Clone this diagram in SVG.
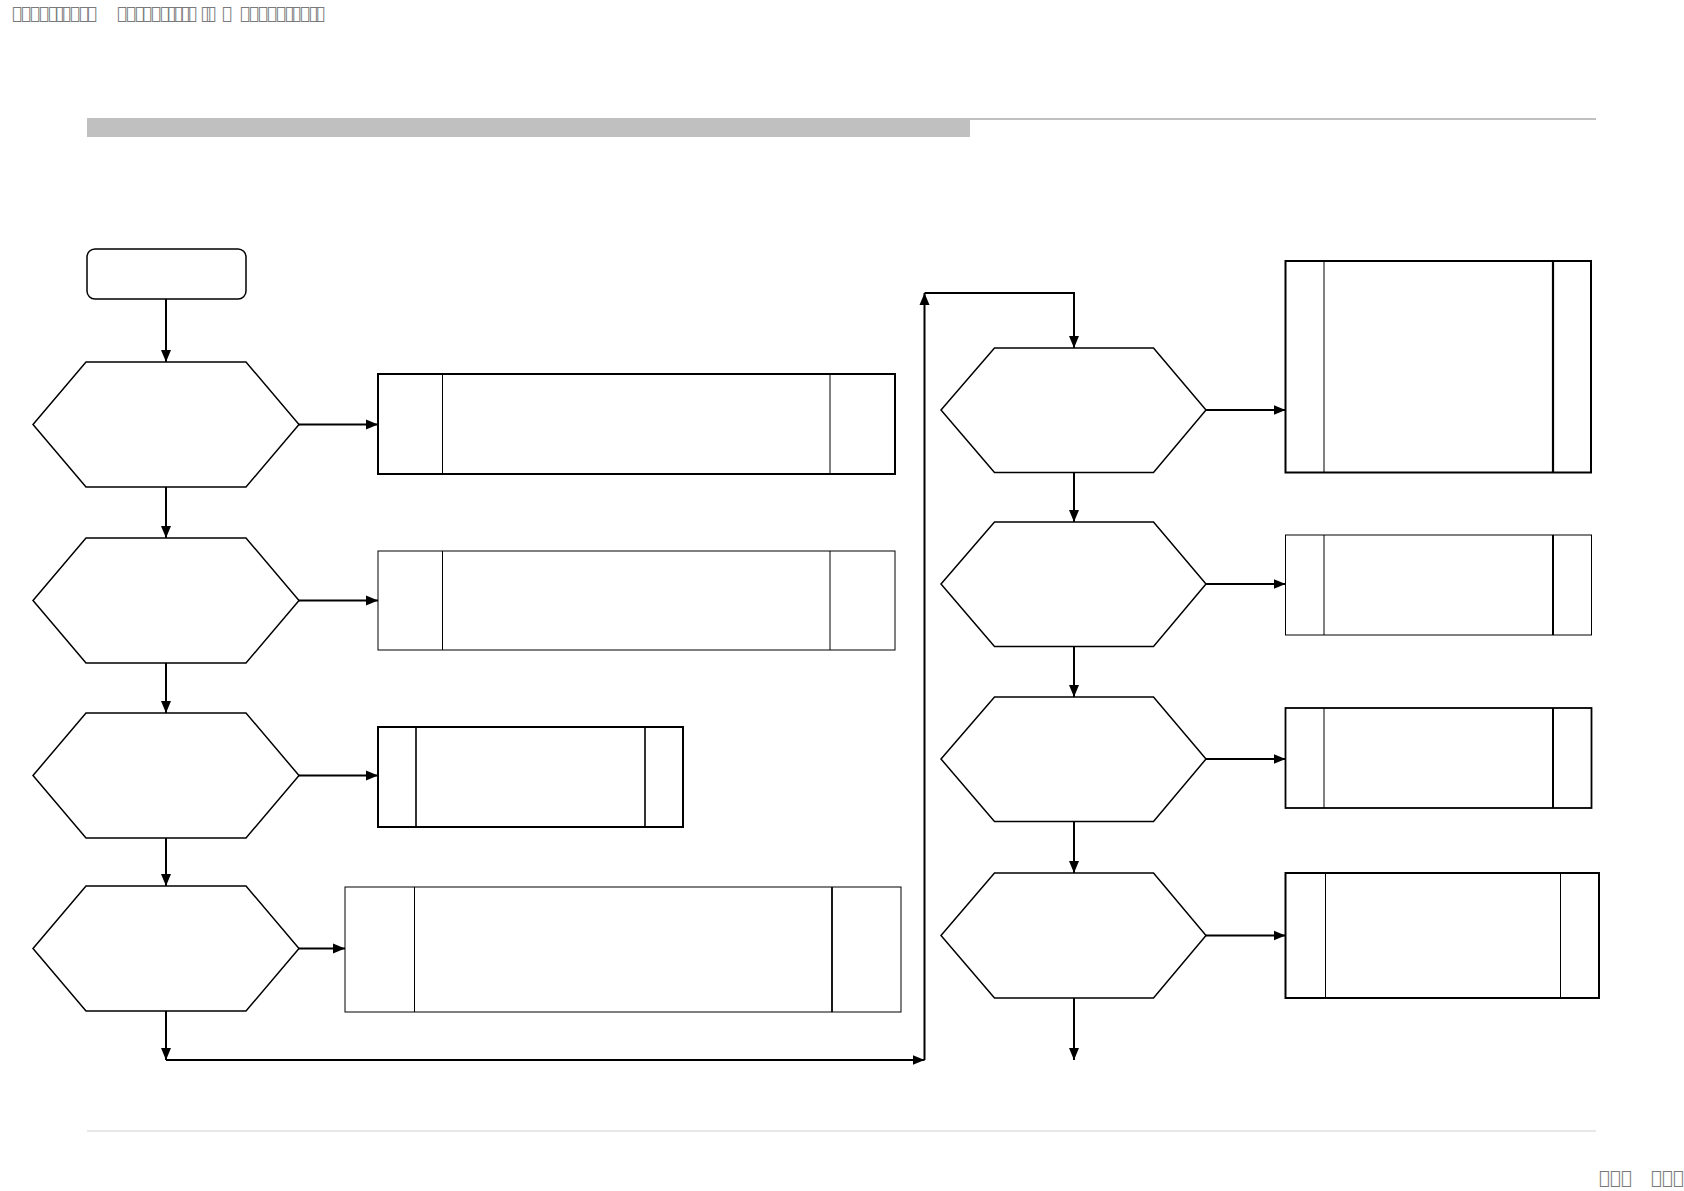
<svg xmlns="http://www.w3.org/2000/svg" width="1684" height="1191" viewBox="0 0 1684 1191">
<style>
.hex{fill:#fff;stroke:#000;stroke-width:1.5;stroke-linejoin:miter}
.box{fill:#fff;stroke:#000}
.thick{stroke-width:2}
.thin{stroke-width:1}
.div{stroke:#000;fill:none}
.con{fill:none;stroke:#000;stroke-width:2}
.hdr{font-family:"DejaVu Sans",sans-serif;fill:#7a7a7a}
</style>
<defs>
<marker id="arr" markerUnits="userSpaceOnUse" markerWidth="13" markerHeight="12" viewBox="0 0 13 12" refX="12" refY="6" orient="auto">
<path d="M0,1 L12,6 L0,11 Z" fill="#000"/>
</marker>
</defs>
<rect width="1684" height="1191" fill="#fff"/>
<g id="header">
<line x1="87" y1="119" x2="1596" y2="119" stroke="#c0c0c0" stroke-width="2"/>
<rect x="87" y="118" width="883" height="19" fill="#c0c0c0"/>
<line x1="87" y1="1131" x2="1596" y2="1131" stroke="#d0d0d0" stroke-width="1"/>
<text class="hdr" font-size="17" y="19" x="12 21 30 39 48 55 61 70 79 87 117 126 135 142 151 160 167 173 181 187 201 206 222 240 249 258 267 276 285 291 300 309 315">&#xE000;&#xE001;&#xE002;&#xE003;&#xE004;&#xE005;&#xE006;&#xE007;&#xE008;&#xE009;&#xE00A;&#xE00B;&#xE00C;&#xE00D;&#xE00E;&#xE00F;&#xE010;&#xE011;&#xE012;&#xE013;&#xE014;&#xE015;&#xE016;&#xE017;&#xE018;&#xE019;&#xE01A;&#xE01B;&#xE01C;&#xE01D;&#xE01E;&#xE01F;&#xE020;</text>
<text class="hdr" font-size="18" y="1184" x="1599 1610 1621 1651 1662 1673">&#xE021;&#xE022;&#xE023;&#xE024;&#xE025;&#xE026;</text>
</g>
<g id="connectors">
<line class="con" x1="166" y1="299" x2="166" y2="362" marker-end="url(#arr)"/>
<line class="con" x1="166" y1="487" x2="166" y2="538" marker-end="url(#arr)"/>
<line class="con" x1="166" y1="663" x2="166" y2="713" marker-end="url(#arr)"/>
<line class="con" x1="166" y1="838" x2="166" y2="886" marker-end="url(#arr)"/>
<line class="con" x1="166" y1="1011" x2="166" y2="1060" marker-end="url(#arr)"/>
<line class="con" x1="299" y1="424.5" x2="378" y2="424.5" marker-end="url(#arr)"/>
<line class="con" x1="299" y1="600.5" x2="378" y2="600.5" marker-end="url(#arr)"/>
<line class="con" x1="299" y1="775.5" x2="378" y2="775.5" marker-end="url(#arr)"/>
<line class="con" x1="299" y1="948.5" x2="345" y2="948.5" marker-end="url(#arr)"/>
<line class="con" x1="166" y1="1060" x2="924.5" y2="1060" marker-end="url(#arr)"/>
<line class="con" x1="924.5" y1="1060" x2="924.5" y2="293" marker-end="url(#arr)"/>
<polyline class="con" points="924.5,293 1074,293 1074,348" marker-end="url(#arr)"/>
<line class="con" x1="1074" y1="472.5" x2="1074" y2="522" marker-end="url(#arr)"/>
<line class="con" x1="1074" y1="646.5" x2="1074" y2="697" marker-end="url(#arr)"/>
<line class="con" x1="1074" y1="821.5" x2="1074" y2="873" marker-end="url(#arr)"/>
<line class="con" x1="1074" y1="998" x2="1074" y2="1060" marker-end="url(#arr)"/>
<line class="con" x1="1206" y1="410" x2="1285.5" y2="410" marker-end="url(#arr)"/>
<line class="con" x1="1206" y1="584" x2="1285.5" y2="584" marker-end="url(#arr)"/>
<line class="con" x1="1206" y1="759" x2="1285.5" y2="759" marker-end="url(#arr)"/>
<line class="con" x1="1206" y1="935.5" x2="1285.5" y2="935.5" marker-end="url(#arr)"/>
</g>
<g id="start"><rect x="87" y="249" width="159" height="50" rx="8" class="box" stroke-width="1.5"/></g>
<g id="h1"><polygon class="hex" points="33,424.5 86,362 246,362 299,424.5 246,487 86,487"/></g>
<g id="h2"><polygon class="hex" points="33,600.5 86,538 246,538 299,600.5 246,663 86,663"/></g>
<g id="h3"><polygon class="hex" points="33,775.5 86,713 246,713 299,775.5 246,838 86,838"/></g>
<g id="h4"><polygon class="hex" points="33,948.5 86,886 246,886 299,948.5 246,1011 86,1011"/></g>
<g id="r1"><polygon class="hex" points="941,410 994.5,348 1153.5,348 1206,410 1153.5,472.5 994.5,472.5"/></g>
<g id="r2"><polygon class="hex" points="941,584 994.5,522 1153.5,522 1206,584 1153.5,646.5 994.5,646.5"/></g>
<g id="r3"><polygon class="hex" points="941,759 994.5,697 1153.5,697 1206,759 1153.5,821.5 994.5,821.5"/></g>
<g id="r4"><polygon class="hex" points="941,935.5 994.5,873 1153.5,873 1206,935.5 1153.5,998 994.5,998"/></g>
<g id="b1">
<rect class="box thick" x="378" y="374" width="517" height="100"/>
<line class="div" stroke-width="1" x1="442.5" y1="374" x2="442.5" y2="474"/>
<line class="div" stroke-width="1" x1="830" y1="374" x2="830" y2="474"/>
</g>
<g id="b2">
<rect class="box thin" x="378" y="551" width="517" height="99"/>
<line class="div" stroke-width="1" x1="442.5" y1="551" x2="442.5" y2="650"/>
<line class="div" stroke-width="1" x1="830" y1="551" x2="830" y2="650"/>
</g>
<g id="b3">
<rect class="box thick" x="378" y="727" width="305" height="100"/>
<line class="div" stroke-width="1.6" x1="416" y1="727" x2="416" y2="827"/>
<line class="div" stroke-width="1.6" x1="645" y1="727" x2="645" y2="827"/>
</g>
<g id="b4">
<rect class="box thin" x="345" y="887" width="556" height="125"/>
<line class="div" stroke-width="1" x1="414.5" y1="887" x2="414.5" y2="1012"/>
<line class="div" stroke-width="1.8" x1="832" y1="887" x2="832" y2="1012"/>
</g>
<g id="rb1">
<rect class="box thick" x="1285.5" y="261" width="305.5" height="211.5"/>
<line class="div" stroke-width="1" x1="1324" y1="261" x2="1324" y2="472.5"/>
<line class="div" stroke-width="2.2" x1="1553" y1="261" x2="1553" y2="472.5"/>
</g>
<g id="rb2">
<rect class="box thin" x="1285.5" y="535" width="306" height="100"/>
<line class="div" stroke-width="1" x1="1324" y1="535" x2="1324" y2="635"/>
<line class="div" stroke-width="2" x1="1553" y1="535" x2="1553" y2="635"/>
</g>
<g id="rb3">
<rect class="box" stroke-width="1.8" x="1285.5" y="708" width="306" height="100"/>
<line class="div" stroke-width="1" x1="1324" y1="708" x2="1324" y2="808"/>
<line class="div" stroke-width="2" x1="1553" y1="708" x2="1553" y2="808"/>
</g>
<g id="rb4">
<rect class="box thick" x="1285.5" y="873" width="313.5" height="125"/>
<line class="div" stroke-width="1" x1="1325.5" y1="873" x2="1325.5" y2="998"/>
<line class="div" stroke-width="1" x1="1560.5" y1="873" x2="1560.5" y2="998"/>
</g>
</svg>
